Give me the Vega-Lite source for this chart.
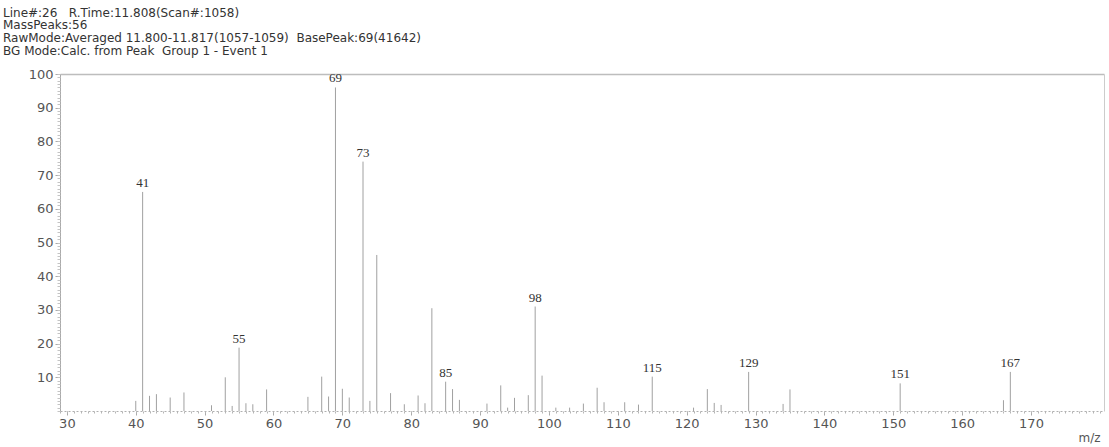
{
  "$schema": "https://vega.github.io/schema/vega-lite/v6.json",
  "width": 1044,
  "height": 337,
  "autosize": {"type": "none"},
  "padding": {"left": 60, "top": 74, "right": 5, "bottom": 36},
  "background": "white",
  "title": {
    "text": ["Line#:26\u00a0\u00a0\u00a0R.Time:11.808(Scan#:1058)", "MassPeaks:56", "RawMode:Averaged 11.800-11.817(1057-1059)\u00a0\u00a0BasePeak:69(41642)", "BG Mode:Calc. from Peak\u00a0\u00a0Group 1 - Event 1"],
    "anchor": "start", "frame": "group", "dx": -57, "offset": 10,
    "fontSize": 12, "font": "DejaVu Sans", "fontWeight": "normal", "color": "#333333", "lineHeight": 12.8
  },
  "data": {"values": [
    {"mz": 40, "i": 3}, {"mz": 41, "i": 65, "label": "41"}, {"mz": 42, "i": 4.5}, {"mz": 43, "i": 5}, {"mz": 45, "i": 4}, {"mz": 47, "i": 5.5},
    {"mz": 51, "i": 1.7}, {"mz": 53, "i": 10}, {"mz": 54, "i": 1.5}, {"mz": 55, "i": 18.8, "label": "55"}, {"mz": 56, "i": 2.3}, {"mz": 57, "i": 2}, {"mz": 59, "i": 6.4},
    {"mz": 65, "i": 4.2}, {"mz": 67, "i": 10.2}, {"mz": 68, "i": 4.3}, {"mz": 69, "i": 96, "label": "69"}, {"mz": 70, "i": 6.6}, {"mz": 71, "i": 4},
    {"mz": 73, "i": 74, "label": "73"}, {"mz": 74, "i": 3}, {"mz": 75, "i": 46.3}, {"mz": 77, "i": 5.3}, {"mz": 79, "i": 2},
    {"mz": 81, "i": 4.6}, {"mz": 82, "i": 2.3}, {"mz": 83, "i": 30.5}, {"mz": 85, "i": 8.7, "label": "85"}, {"mz": 86, "i": 6.5}, {"mz": 87, "i": 3.3},
    {"mz": 91, "i": 2.2}, {"mz": 93, "i": 7.6}, {"mz": 94, "i": 1}, {"mz": 95, "i": 3.9}, {"mz": 97, "i": 4.7}, {"mz": 98, "i": 31, "label": "98"}, {"mz": 99, "i": 10.5},
    {"mz": 101, "i": 1}, {"mz": 103, "i": 1}, {"mz": 105, "i": 2.2}, {"mz": 107, "i": 6.9}, {"mz": 108, "i": 2.6},
    {"mz": 111, "i": 2.6}, {"mz": 113, "i": 1.9}, {"mz": 115, "i": 10.2, "label": "115"},
    {"mz": 121, "i": 1}, {"mz": 123, "i": 6.5}, {"mz": 124, "i": 2.4}, {"mz": 125, "i": 1.8}, {"mz": 129, "i": 11.6, "label": "129"},
    {"mz": 134, "i": 2.1}, {"mz": 135, "i": 6.4},
    {"mz": 151, "i": 8.2, "label": "151"}, {"mz": 166, "i": 3.2}, {"mz": 167, "i": 11.6, "label": "167"}
  ]},
  "resolve": {"axis": {"x": "independent", "y": "independent"}},
  "layer": [
    {
      "mark": {"type": "rule", "color": "#a0a0a0", "strokeWidth": 1},
      "encoding": {
        "x": {"field": "mz", "type": "quantitative",
          "scale": {"domain": [29, 180.6], "nice": false, "zero": false},
          "axis": {"orient": "bottom", "values": [30, 40, 50, 60, 70, 80, 90, 100, 110, 120, 130, 140, 150, 160, 170],
            "grid": false, "tickSize": 4, "tickColor": "#aaaaaa", "domainColor": "#b0b0b0", "domainDash": [2, 2],
            "labelFont": "DejaVu Sans", "labelFontSize": 13, "labelColor": "#555555", "labelPadding": 2,
            "title": "m/z", "titleAnchor": "end", "titleAlign": "right", "titleFont": "DejaVu Sans", "titleFontSize": 12,
            "titleFontWeight": "normal", "titleColor": "#555555", "titlePadding": 2, "titleX": 1040}},
        "y": {"field": "i", "type": "quantitative",
          "scale": {"domain": [0, 100], "nice": false, "zero": true},
          "axis": {"orient": "left", "values": [10, 20, 30, 40, 50, 60, 70, 80, 90, 100], "grid": false,
            "tickSize": 5, "tickColor": "#aaaaaa", "domainColor": "#aaaaaa",
            "labelFont": "DejaVu Sans", "labelFontSize": 13, "labelColor": "#555555", "labelPadding": 2, "title": null}},
        "y2": {"datum": 0}
      }
    },
    {
      "transform": [{"filter": "datum.label"}],
      "mark": {"type": "text", "font": "Liberation Serif", "fontSize": 13, "color": "#333333", "baseline": "bottom", "dy": -2},
      "encoding": {
        "x": {"field": "mz", "type": "quantitative",
          "scale": {"domain": [29, 180.6], "nice": false, "zero": false},
          "axis": {"orient": "bottom", "values": [29,30,31,32,33,34,35,36,37,38,39,40,41,42,43,44,45,46,47,48,49,50,51,52,53,54,55,56,57,58,59,60,61,62,63,64,65,66,67,68,69,70,71,72,73,74,75,76,77,78,79,80,81,82,83,84,85,86,87,88,89,90,91,92,93,94,95,96,97,98,99,100,101,102,103,104,105,106,107,108,109,110,111,112,113,114,115,116,117,118,119,120,121,122,123,124,125,126,127,128,129,130,131,132,133,134,135,136,137,138,139,140,141,142,143,144,145,146,147,148,149,150,151,152,153,154,155,156,157,158,159,160,161,162,163,164,165,166,167,168,169,170,171,172,173,174,175,176,177,178,179,180],
            "labels": false, "domain": false, "grid": false, "tickSize": 2, "tickColor": "#b5b5b5", "title": null}},
        "y": {"field": "i", "type": "quantitative",
          "scale": {"domain": [0, 100], "nice": false, "zero": true},
          "axis": {"orient": "left", "values": [0,1,2,3,4,5,6,7,8,9,10,11,12,13,14,15,16,17,18,19,20,21,22,23,24,25,26,27,28,29,30,31,32,33,34,35,36,37,38,39,40,41,42,43,44,45,46,47,48,49,50,51,52,53,54,55,56,57,58,59,60,61,62,63,64,65,66,67,68,69,70,71,72,73,74,75,76,77,78,79,80,81,82,83,84,85,86,87,88,89,90,91,92,93,94,95,96,97,98,99,100],
            "labels": false, "domain": false, "grid": false, "tickSize": 3, "tickColor": "#c4c4c4", "title": null}},
        "text": {"field": "label", "type": "nominal"}
      }
    },
    {
      "mark": {"type": "rule", "strokeOpacity": 0},
      "encoding": {
        "x": {"field": "mz", "type": "quantitative",
          "scale": {"domain": [29, 180.6], "nice": false, "zero": false},
          "axis": {"orient": "top", "labels": false, "ticks": false, "grid": false, "domainColor": "#bdbdbd", "domainWidth": 1.5, "title": null}},
        "y": {"field": "i", "type": "quantitative",
          "scale": {"domain": [0, 100], "nice": false, "zero": true},
          "axis": {"orient": "right", "labels": false, "ticks": false, "grid": false, "domainColor": "#cccccc", "title": null}},
        "y2": {"datum": 0}
      }
    }
  ],
  "config": {"view": {"stroke": null}}
}
